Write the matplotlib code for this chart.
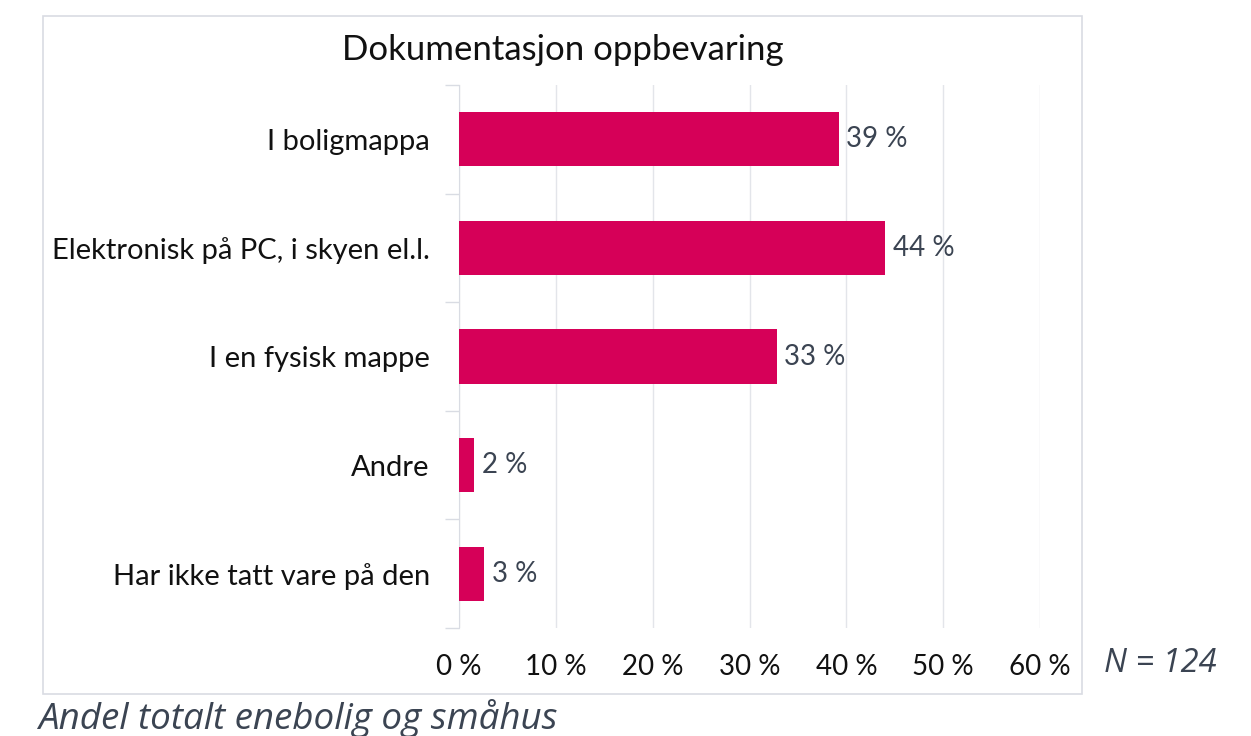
import matplotlib
matplotlib.use("Agg")
import matplotlib.pyplot as plt
from matplotlib.patches import Rectangle

categories = ["I boligmappa", "Elektronisk på PC, i skyen el.l.", "I en fysisk mappe",
              "Andre", "Har ikke tatt vare på den"]
values = [39.2, 44.0, 32.8, 1.6, 2.6]
value_labels = ["39 %", "44 %", "33 %", "2 %", "3 %"]
xticks = [0, 10, 20, 30, 40, 50, 60]
xtick_labels = [f"{t} %" for t in xticks]
title = "Dokumentasjon oppbevaring"
note_n = "N = 124"
caption = "Andel totalt enebolig og småhus"

W, H = 1251, 736
fig = plt.figure(figsize=(W / 100, H / 100), dpi=100)
fig.patch.set_facecolor("white")

# outer chart frame
fig.patches.append(Rectangle((43 / W, 1 - 694 / H), (1082 - 43) / W, (694 - 16) / H,
                             transform=fig.transFigure, fill=False,
                             edgecolor="#d9dce3", linewidth=1.2))

ax = fig.add_axes([459 / W, 1 - 628 / H, (1040 - 459) / W, (628 - 85) / H])
y = list(range(len(categories)))
ax.barh(y, values, height=0.5, color="#d60058", zorder=3)
ax.set_ylim(len(categories) - 0.5, -0.5)
ax.set_xlim(0, 60)
ax.set_xticks(xticks)
ax.set_xticklabels(xtick_labels, fontsize=20, family="Lato", color="#111111")
ax.tick_params(axis="x", length=0, pad=19)
ax.set_yticks(y)
ax.set_yticklabels(categories, fontsize=21, family="Lato", color="#111111")
ax.tick_params(axis="y", length=0, pad=21)
ax.set_yticks([i - 0.5 for i in range(len(categories) + 1)], minor=True)
ax.tick_params(axis="y", which="minor", length=10, color="#d9dce3", width=1)
ax.grid(axis="x", color="#e3e5ea", linewidth=1, zorder=0)
for s in ["top", "right", "bottom"]:
    ax.spines[s].set_visible(False)
ax.spines["left"].set_color("#d9dce3")

for yi, v, lab in zip(y, values, value_labels):
    ax.text(v + 0.8, yi, lab, va="center", ha="left", fontsize=20,
            family="Lato", color="#3b4452", zorder=4)

fig.text((340 + 786) / 2 / W, 1 - 50 / H, title, ha="center", va="center",
         fontsize=25, family="Lato", color="#111111")
fig.text(1160 / W, 1 - 664 / H, note_n, ha="center", va="center", fontsize=23.5,
         family="Open Sans", style="italic", color="#3b4452")
fig.text(38 / W, 1 - 718 / H, caption, ha="left", va="center", fontsize=26.5,
         family="Open Sans", style="italic", color="#3b4452")

fig.savefig("out.png", dpi=100, facecolor="white")
